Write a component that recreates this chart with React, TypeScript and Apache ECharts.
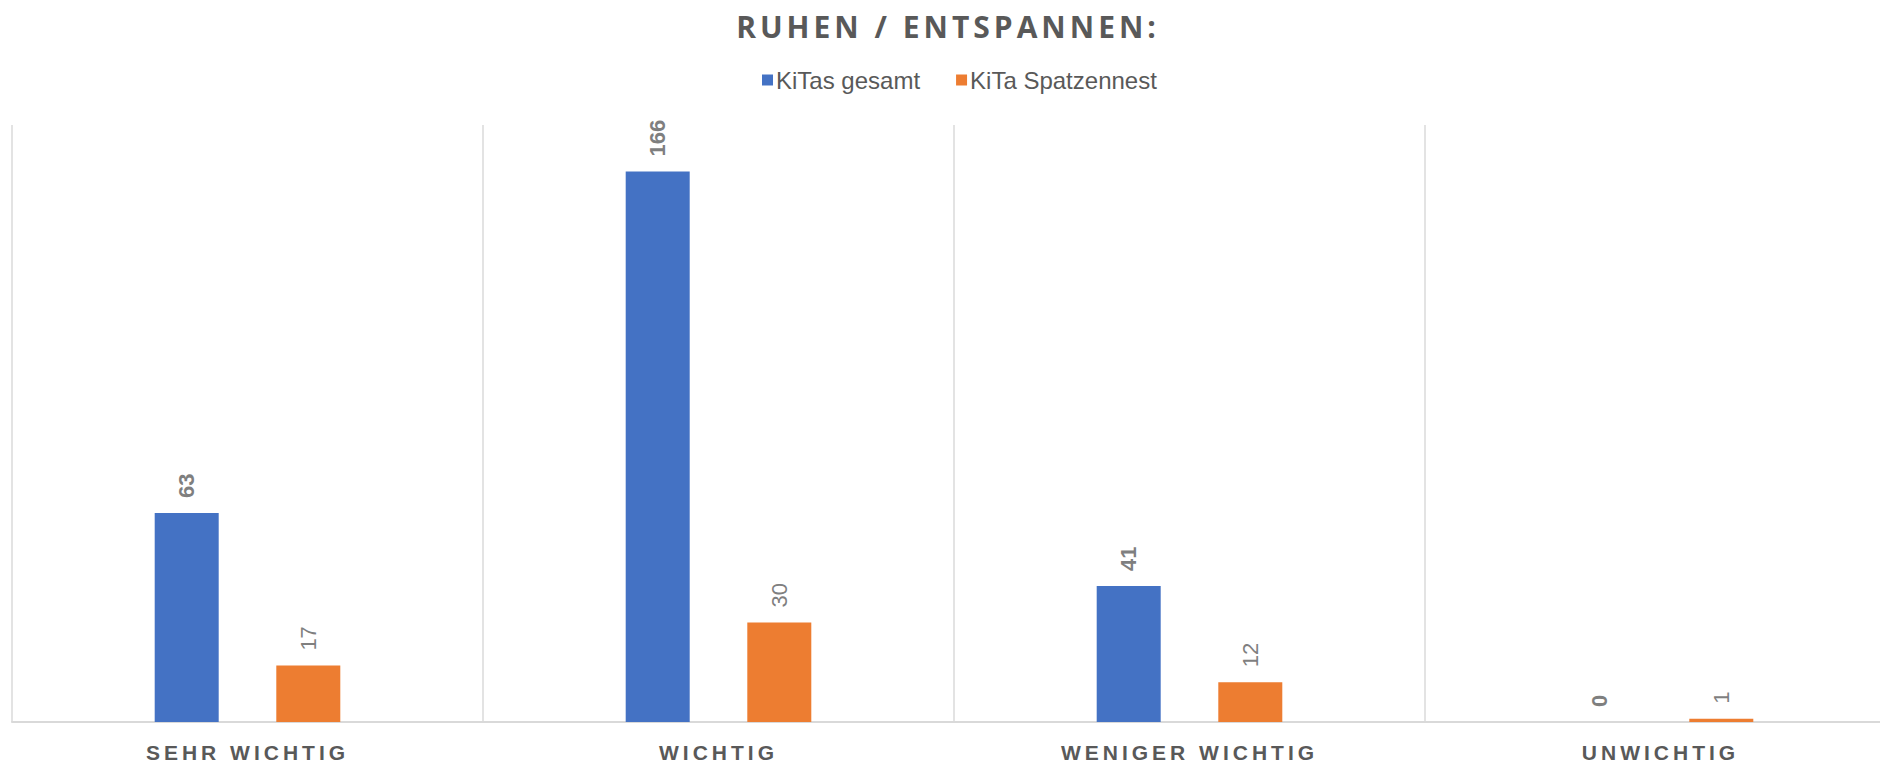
import React, { useEffect, useRef } from "react";
import * as echarts from "echarts";

const TITLE = "RUHEN / ENTSPANNEN:";
const categories = ["SEHR WICHTIG", "WICHTIG", "WENIGER WICHTIG", "UNWICHTIG"];
const seriesNames = ["KiTas gesamt", "KiTa Spatzennest"];
const kitasGesamt = [63, 166, 41, 0];
const kitaSpatzennest = [17, 30, 12, 1];

export default function App() {
  const ref = useRef<HTMLDivElement>(null);
  useEffect(() => {
    if (!ref.current) return;
    const chart = echarts.init(ref.current, undefined, { renderer: "svg" });
    const labelBase = {
      show: true,
      position: "top" as const,
      rotate: 90,
      align: "left" as const,
      verticalAlign: "middle" as const,
      distance: 15,
      color: "#7f7f7f",
      fontSize: 22,
      fontFamily: "Liberation Sans, Arial, sans-serif",
    };
    chart.setOption({
      animation: false,
      backgroundColor: "#ffffff",
      title: {
        text: TITLE,
        left: "center",
        top: 6,
        textStyle: {
          fontFamily: "Open Sans, sans-serif",
          fontWeight: "bold",
          fontSize: 30,
          color: "#595959",
        },
      },
      legend: {
        top: 63,
        left: 757,
        itemWidth: 11,
        itemHeight: 11,
        itemGap: 36,
        icon: "rect",
        textStyle: {
          fontFamily: "Liberation Sans, Arial, sans-serif",
          fontSize: 24,
          color: "#595959",
          padding: [0, 0, 0, -2],
        },
        data: seriesNames,
      },
      grid: { left: 12, right: 0, top: 125, bottom: 40, containLabel: false },
      xAxis: {
        type: "category",
        data: categories,
        axisLine: { lineStyle: { color: "#d9d9d9", width: 2 } },
        axisTick: { show: false },
        splitLine: { show: true, lineStyle: { color: "#e3e3e3", width: 2 } },
        axisLabel: {
          margin: 20,
          fontFamily: "Liberation Sans, Arial, sans-serif",
          fontWeight: "bold",
          fontSize: 21,
          color: "#595959",
        },
      },
      yAxis: {
        type: "value",
        min: 0,
        max: 180,
        show: false,
        splitLine: { show: false },
      },
      series: [
        {
          name: seriesNames[0],
          type: "bar",
          data: kitasGesamt,
          barWidth: 64,
          barGap: "90%",
          itemStyle: { color: "#4472c4" },
          label: { ...labelBase, fontWeight: "bold" },
        },
        {
          name: seriesNames[1],
          type: "bar",
          data: kitaSpatzennest,
          barWidth: 64,
          itemStyle: { color: "#ed7d31" },
          label: { ...labelBase, fontWeight: "normal" },
        },
      ],
    });
    const applySpacing = () => {
      const el = ref.current;
      if (!el) return;
      el.querySelectorAll("text").forEach((t) => {
        const s = (t.textContent || "").trim();
        if (s === TITLE) t.setAttribute("letter-spacing", "4px");
        else if (categories.includes(s)) t.setAttribute("letter-spacing", "4px");
      });
    };
    applySpacing();
    chart.on("finished", applySpacing);
    const timer = setTimeout(applySpacing, 50);
    return () => {
      clearTimeout(timer);
      chart.dispose();
    };
  }, []);
  return (
    <div style={{ position: "fixed", left: 0, top: 0, width: 1880, height: 763, overflow: "hidden", background: "#fff" }}>
      <div ref={ref} style={{ width: 1896, height: 763, position: "absolute", left: 0, top: 0 }} />
    </div>
  );
}
